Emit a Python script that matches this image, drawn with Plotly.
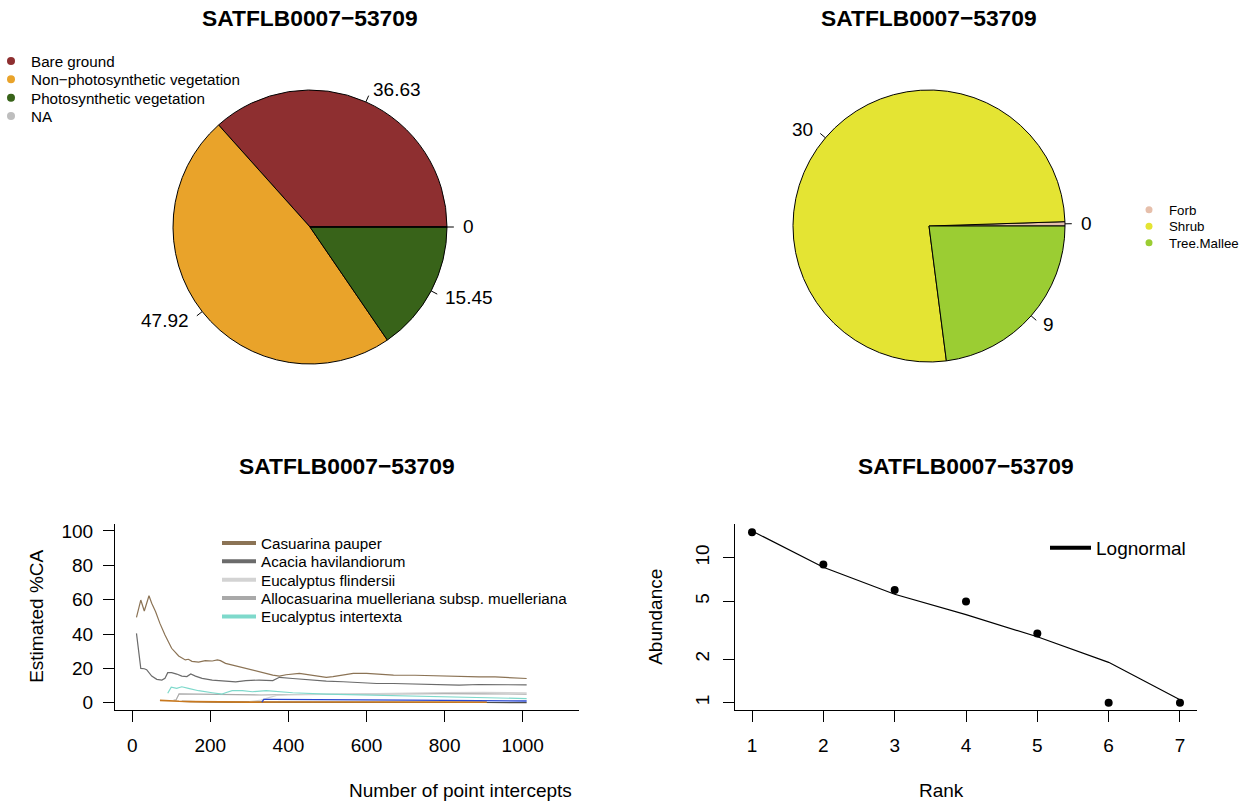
import math
import plotly.graph_objects as go

W, H = 1242, 801
FONT = "Liberation Sans, Arial, Helvetica, sans-serif"
TITLE = "SATFLB0007\u221253709"
BASE = 19

# ---------------- data ----------------
cover_labels = ["Bare ground", "Non\u2212photosynthetic vegetation", "Photosynthetic vegetation", "NA"]
cover_values = [36.63, 47.92, 15.45, 0]
cover_text = ["36.63", "47.92", "15.45", "0"]
cover_colors = ["#8E2F30", "#E9A32A", "#386319", "#BEBEBE"]

growth_labels = ["Forb", "Shrub", "Tree.Mallee"]
growth_values = [0.2, 30, 9]
growth_text = ["0", "30", "9"]
growth_colors = ["#E6BFAB", "#E4E433", "#9BCD33"]

casuarina_x = [11, 22, 31, 43, 50, 60, 71, 84, 101, 119, 136, 144, 153, 170, 187, 205, 218, 226, 239, 265,
               291, 325, 360, 377, 394, 428, 463, 497, 514, 540, 566, 600, 635, 669, 724, 765, 806, 847,
               888, 929, 969, 1010]
casuarina_y = [49.7, 59.8, 53.4, 62.3, 57.9, 53.0, 46.2, 39.4, 31.7, 27.2, 24.9, 25.3, 24.1, 23.7, 24.5,
               24.3, 24.9, 24.5, 22.9, 21.4, 20.0, 18.0, 16.1, 15.5, 16.3, 17.1, 16.1, 14.8, 15.2, 16.1,
               17.1, 17.1, 16.7, 16.1, 16.0, 15.7, 15.3, 15.1, 15.1, 15.0, 14.5, 14.1]

acacia_x = [11, 22, 31, 37, 50, 63, 76, 84, 91, 101, 114, 127, 140, 150, 162, 179, 205, 239, 265, 291,
            325, 360, 377, 411, 454, 497, 540, 583, 626, 669, 720, 786, 837, 888, 949, 1010]
acacia_y = [40.4, 20.0, 19.8, 19.2, 15.5, 13.6, 13.2, 14.2, 17.5, 17.5, 16.7, 15.5, 15.2, 16.7, 15.5,
            14.2, 13.2, 12.6, 12.1, 12.9, 13.2, 12.9, 14.8, 14.1, 13.2, 12.6, 12.2, 11.6, 11.2, 11.2,
            11.0, 10.8, 10.2, 10.6, 10.6, 10.4]

flindersii_x = [300, 330, 350, 370, 400, 500, 600, 700, 800, 900, 1010]
flindersii_y = [0.7, 1.5, 3.0, 4.3, 4.6, 5.0, 5.4, 5.6, 5.9, 6.0, 5.8]

allocas_x = [106, 112, 120, 160, 205, 260, 330, 400, 500, 600, 700, 800, 900, 1010]
allocas_y = [1.6, 1.5, 5.1, 5.0, 4.6, 4.4, 4.5, 4.8, 5.0, 5.1, 5.2, 5.3, 5.2, 5.0]

intertexta_x = [91, 100, 114, 127, 144, 170, 205, 230, 239, 256, 282, 308, 343, 377, 411, 497, 583,
                669, 786, 888, 1010]
intertexta_y = [5.5, 9.0, 8.4, 9.3, 8.4, 7.0, 5.8, 5.0, 5.8, 7.0, 7.0, 6.4, 7.0, 6.4, 5.8, 5.0, 4.5,
                4.3, 3.3, 2.9, 2.4]

orange_x = [71, 80, 100, 120, 150, 200, 250, 300, 370, 400, 500, 600, 700, 800, 908]
orange_y = [1.4, 1.25, 1.0, 0.83, 0.67, 0.5, 0.4, 0.33, 0.45, 0.42, 0.4, 0.38, 0.36, 0.35, 0.33]

darkgrey_x = [127, 150, 200, 250, 300, 360, 500, 700, 900, 1010]
darkgrey_y = [0.8, 0.6, 0.45, 0.35, 0.3, 0.25, 0.2, 0.15, 0.12, 0.1]

blue_x = [332, 337, 360, 400, 500, 600, 700, 800, 900, 1010]
blue_y = [0.3, 2.0, 2.0, 1.9, 1.8, 1.7, 1.5, 1.4, 1.2, 1.0]

species_names = ["Casuarina pauper", "Acacia havilandiorum", "Eucalyptus flindersii",
                 "Allocasuarina muelleriana subsp. muelleriana", "Eucalyptus intertexta"]
species_colors = ["#8B7355", "#6B6B6B", "#D3D3D3", "#A9A9A9", "#7ED9CB"]

x_ticks = [0, 200, 400, 600, 800, 1000]
y_ticks = [0, 20, 40, 60, 80, 100]

rank = [1, 2, 3, 4, 5, 6, 7]
abundance = [15, 9, 6, 5, 3, 1, 1]
lognormal_fit = [15.3, 8.6, 5.6, 4.05, 2.85, 1.9, 1.05]
rank_yticks = [1, 2, 5, 10]

# ---------------- layout geometry (pixels) ----------------
P1 = dict(cx=310, cy=227, r=137)
P2 = dict(cx=929, cy=226, r=136)
LC = dict(x0=115.0, x1=579.0, y0=524.1, y1=709.6)   # line chart plot region
RK = dict(x0=734.9, x1=1197.1, y0=524.1, y1=709.6)  # rank plot region


def px(x):
    return x / W


def py(y):
    return 1 - y / H


def pie_domain(p):
    return dict(x=[px(p["cx"] - p["r"]), px(p["cx"] + p["r"])],
                y=[py(p["cy"] + p["r"]), py(p["cy"] - p["r"])])


def start_rotation(values):
    # first slice starts at 3 o'clock and runs counter-clockwise (as in R's pie)
    return 90 - 360.0 * values[0] / sum(values)


fig = go.Figure()

fig.add_trace(go.Pie(values=cover_values, labels=cover_labels, marker=dict(colors=cover_colors,
              line=dict(color="black", width=1)), sort=False, direction="counterclockwise",
              rotation=start_rotation(cover_values), textinfo="none", showlegend=False,
              domain=pie_domain(P1)))
fig.add_trace(go.Pie(values=growth_values, labels=growth_labels, marker=dict(colors=growth_colors,
              line=dict(color="black", width=1)), sort=False, direction="counterclockwise",
              rotation=start_rotation(growth_values), textinfo="none", showlegend=False,
              domain=pie_domain(P2)))

shapes = []
annotations = []


def pie_labels(values, texts, p):
    total = sum(values)
    cum = 0.0
    for v, t in zip(values, texts):
        ang = (cum + v / 2) / total * 2 * math.pi
        cum += v
        c, s = math.cos(ang), math.sin(ang)
        r = p["r"]
        shapes.append(dict(type="line", xref="paper", yref="paper",
                           x0=px(p["cx"] + r * c), y0=py(p["cy"] - r * s),
                           x1=px(p["cx"] + 1.05 * r * c), y1=py(p["cy"] - 1.05 * r * s),
                           line=dict(color="black", width=1)))
        annotations.append(dict(xref="paper", yref="paper", x=px(p["cx"] + 1.1 * r * c),
                                y=py(p["cy"] - 1.1 * r * s), text=t, showarrow=False,
                                xanchor="left" if c >= 0 else "right", yanchor="middle",
                                font=dict(size=BASE, color="black", family=FONT)))


pie_labels(cover_values, cover_text, P1)
pie_labels(growth_values, growth_text, P2)

# ---------- line chart ----------
for xs, ys, col, lw in [(darkgrey_x, darkgrey_y, "#4D4D4D", 1.2),
                        (allocas_x, allocas_y, species_colors[3], 1.2),
                        (flindersii_x, flindersii_y, species_colors[2], 1.2),
                        (orange_x, orange_y, "#C8781E", 1.6),
                        (blue_x, blue_y, "#2846D2", 1.3),
                        (intertexta_x, intertexta_y, species_colors[4], 1.2),
                        (acacia_x, acacia_y, species_colors[1], 1.2),
                        (casuarina_x, casuarina_y, species_colors[0], 1.2)]:
    fig.add_trace(go.Scatter(x=xs, y=ys, mode="lines", line=dict(color=col, width=lw),
                             showlegend=False, hoverinfo="skip", xaxis="x", yaxis="y"))

legend_defs = {}
n_leg = [0]


def new_legend(xk, yk, size, itemwidth=30):
    n_leg[0] += 1
    name = "legend" if n_leg[0] == 1 else "legend%d" % n_leg[0]
    legend_defs[name] = dict(x=px(xk), y=py(yk), xanchor="left", yanchor="middle",
                             bgcolor="rgba(0,0,0,0)", borderwidth=0, itemwidth=itemwidth,
                             font=dict(size=size, color="black", family=FONT),
                             itemclick=False, itemdoubleclick=False)
    return name


# pie legends (dots)
for i, (lab, col) in enumerate(zip(cover_labels, cover_colors)):
    ln = new_legend(-9, 61 + 18.4 * i, 0.8 * BASE)
    fig.add_trace(go.Scatter(x=[None], y=[None], mode="markers", name=lab, legend=ln,
                             marker=dict(color=col, size=8), xaxis="x", yaxis="y"))
for i, (lab, col) in enumerate(zip(growth_labels, growth_colors)):
    ln = new_legend(1129, 210 + 16.5 * i, 0.7 * BASE)
    fig.add_trace(go.Scatter(x=[None], y=[None], mode="markers", name=lab, legend=ln,
                             marker=dict(color=col, size=7), xaxis="x", yaxis="y"))
for i, (lab, col) in enumerate(zip(species_names, species_colors)):
    ln = new_legend(217, 543 + 18.4 * i, 0.8 * BASE, itemwidth=34)
    fig.add_trace(go.Scatter(x=[None], y=[None], mode="lines", name=lab, legend=ln,
                             line=dict(color=col, width=4), xaxis="x", yaxis="y"))

# ---------- rank abundance ----------
fig.add_trace(go.Scatter(x=rank, y=lognormal_fit, mode="lines", line=dict(color="black", width=1.2),
                         showlegend=False, hoverinfo="skip", xaxis="x2", yaxis="y2"))
fig.add_trace(go.Scatter(x=rank, y=abundance, mode="markers", marker=dict(color="black", size=8),
                         showlegend=False, xaxis="x2", yaxis="y2"))
ln = new_legend(1045, 548, BASE, itemwidth=41)
fig.add_trace(go.Scatter(x=[None], y=[None], mode="lines", name="Lognormal", legend=ln,
                         line=dict(color="black", width=4), xaxis="x2", yaxis="y2"))

lo = math.log10(min(abundance + lognormal_fit))
hi = math.log10(max(abundance + lognormal_fit))
pad = 0.04 * (hi - lo)

axis_common = dict(showline=True, linecolor="black", linewidth=1, ticks="outside", ticklen=11,
                   tickwidth=1, tickcolor="black", showgrid=False, zeroline=False,
                   tickfont=dict(size=BASE, color="black", family=FONT), fixedrange=True)

fig.update_layout(
    width=W, height=H, margin=dict(l=0, r=0, t=0, b=0, autoexpand=False),
    paper_bgcolor="white", plot_bgcolor="white",
    font=dict(family=FONT, color="black"),
    xaxis=dict(domain=[px(LC["x0"]), px(LC["x1"])], range=[-44, 1144], tickvals=x_ticks,
               anchor="y", ticklabelstandoff=8, **axis_common),
    yaxis=dict(domain=[py(LC["y1"]), py(LC["y0"])], range=[-4, 104], tickvals=y_ticks,
               anchor="x", ticklabelstandoff=6, **axis_common),
    xaxis2=dict(domain=[px(RK["x0"]), px(RK["x1"])], range=[0.76, 7.24], tickvals=rank,
                anchor="y2", ticklabelstandoff=8, **axis_common),
    yaxis2=dict(domain=[py(RK["y1"]), py(RK["y0"])], type="log", range=[lo - pad, hi + pad],
                tickvals=rank_yticks, ticktext=[str(v) for v in rank_yticks], tickangle=-90,
                anchor="x2", ticklabelstandoff=6, **axis_common),
    shapes=shapes,
    **legend_defs,
)

for (x, y) in [(310, 18), (929, 18), ((LC["x0"] + LC["x1"]) / 2, 466), ((RK["x0"] + RK["x1"]) / 2, 466)]:
    annotations.append(dict(xref="paper", yref="paper", x=px(x), y=py(y), text="<b>%s</b>" % TITLE,
                            showarrow=False, xanchor="center", yanchor="middle",
                            font=dict(size=1.2 * BASE, color="black", family=FONT)))

annotations.append(dict(xref="paper", yref="paper", x=px((LC["x0"] + LC["x1"]) / 2), y=py(790),
                        text="Number of point intercepts", showarrow=False, yanchor="middle",
                        font=dict(size=BASE, color="black", family=FONT)))
annotations.append(dict(xref="paper", yref="paper", x=px(37), y=py((LC["y0"] + LC["y1"]) / 2),
                        text="Estimated %CA", showarrow=False, textangle=-90, xanchor="center",
                        yanchor="middle", font=dict(size=BASE, color="black", family=FONT)))
annotations.append(dict(xref="paper", yref="paper", x=px((RK["x0"] + RK["x1"]) / 2), y=py(790),
                        text="Rank", showarrow=False, yanchor="middle",
                        font=dict(size=BASE, color="black", family=FONT)))
annotations.append(dict(xref="paper", yref="paper", x=px(656), y=py((RK["y0"] + RK["y1"]) / 2),
                        text="Abundance", showarrow=False, textangle=-90, xanchor="center",
                        yanchor="middle", font=dict(size=BASE, color="black", family=FONT)))

fig.update_layout(annotations=annotations)
fig.write_html("out.html", config={"displayModeBar": False},
               post_script="document.body.style.margin='0px';document.body.style.overflow='hidden';")
